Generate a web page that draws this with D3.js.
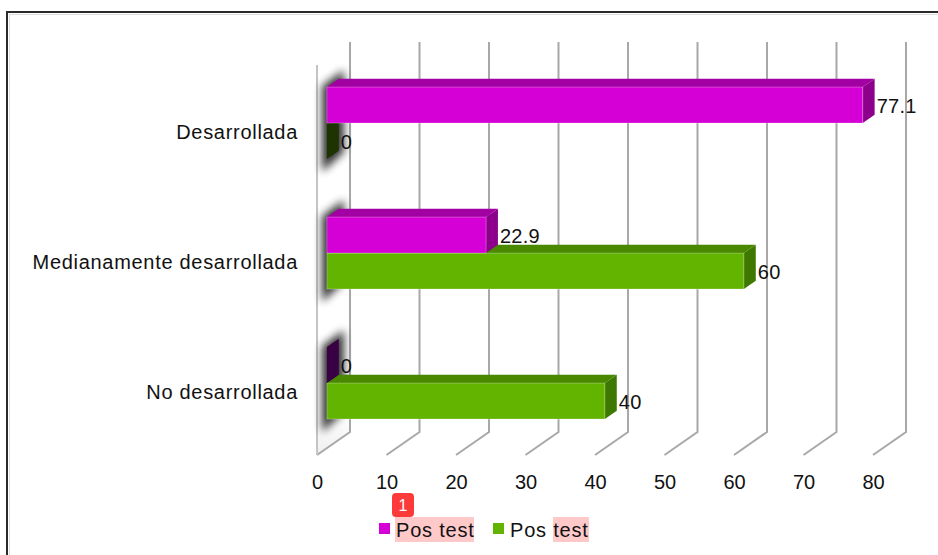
<!DOCTYPE html>
<html><head><meta charset="utf-8">
<script src="https://cdn.jsdelivr.net/npm/d3@7"></script>
<style>
body{margin:0;background:#fff;}
text{font-family:"Liberation Sans",Arial,Helvetica,sans-serif;fill:#111;}
</style></head>
<body>
<svg id="chart" width="938" height="555"></svg>
<script>
const categories = ["Desarrollada", "Medianamente desarrollada", "No desarrollada"];
const seriesNames = ["Pos test", "Pos test"];
const seriesA = [77.1, 22.9, 0];   // magenta
const seriesB = [0, 60, 40];       // green
const tickValues = [0, 10, 20, 30, 40, 50, 60, 70, 80];

const colors = [
  {front:"#d500d5", top:"#a300a3", side:"#8c008c", zero:"#3a0044"},
  {front:"#63b400", top:"#4a8800", side:"#3e7800", zero:"#1d3300"}
];

const svg = d3.select("#chart");
const W = 938, H = 555;
const DX = 33, DY = -23;          // full depth offset
const d0 = 0.30, d1 = 0.66;       // bar depth range
const barH = 36;

const x = d3.scaleLinear().domain([0, 80]).range([317, 873]);
const y = d3.scaleBand().domain(categories).range([65, 455]);
const P = (v, yy, d) => [x(v) + d * DX, yy + d * DY];
const poly = pts => pts.map(p=>p.join(",")).join(" ");

const defs = svg.append("defs");
defs.append("filter").attr("id","blur").attr("x","-80%").attr("y","-50%").attr("width","260%").attr("height","200%")
  .append("feGaussianBlur").attr("stdDeviation", 4);
const wallPts = [P(0,65,0), P(0,65,1), P(0,455,1), P(0,455,0)];
defs.append("clipPath").attr("id","wallclip").append("polygon")
  .attr("points", poly([[x(0)-6,40],[x(0)+DX+2,40],[x(0)+DX+2,458],[x(0)-6,458]]));
const wg = defs.append("linearGradient").attr("id","wallgrad").attr("x1",0).attr("y1",0).attr("x2",0).attr("y2",1);
wg.append("stop").attr("offset","0").attr("stop-color","#ffffff");
wg.append("stop").attr("offset","0.9").attr("stop-color","#ffffff");
wg.append("stop").attr("offset","1").attr("stop-color","#efefef");

// outer border
svg.append("rect").attr("x",7).attr("y",12).attr("width",W).attr("height",H)
  .attr("fill","none").attr("stroke","#2a2a2a").attr("stroke-width",2);
svg.append("rect").attr("x",9.5).attr("y",14.5).attr("width",W).attr("height",H)
  .attr("fill","none").attr("stroke","#dddddd").attr("stroke-width",1);

// wall
svg.append("polygon").attr("points", poly(wallPts)).attr("fill","url(#wallgrad)");

// grid: back verticals and floor diagonals
const grid = svg.append("g").attr("stroke","#a8a8a8").attr("stroke-width",2).attr("fill","none");
tickValues.forEach(t => {
  const b0 = P(t, 65, 1), b1 = P(t, 455, 1), f = P(t, 455, 0);
  grid.append("polyline").attr("points", poly([b0, b1, f]));
});
// wall front edge
grid.append("line").attr("x1",x(0)).attr("x2",x(0)).attr("y1",65).attr("y2",455).attr("stroke","#c4c4c4");

// shadows on wall
const sh = svg.append("g").attr("clip-path","url(#wallclip)");
categories.forEach(c => {
  const cy = y(c) + y.bandwidth()/2;
  const top = cy - barH, bot = cy + barH;
  const pts = [[x(0)+5, top-8], [x(0)+27, top-24], [x(0)+27, bot-14], [x(0)+5, bot+6]];
  sh.append("polygon").attr("points", poly(pts))
    .attr("fill","#000").attr("opacity",0.8).attr("filter","url(#blur)");
});

// bars
const series = [seriesA, seriesB];
const barsG = svg.append("g");
const labelsG = svg.append("g");
[1, 0].forEach(s => {
  categories.forEach((c, i) => {
    const v = series[s][i];
    const cy = y(c) + y.bandwidth()/2;
    const y0 = cy - barH + s * barH, y1 = y0 + barH;
    const col = colors[s];
    const g = barsG.append("g");
    if (v > 0) {
      g.append("polygon").attr("points", poly([P(0,y0,d0),P(v,y0,d0),P(v,y0,d1),P(0,y0,d1)]))
        .attr("fill", col.top);
      g.append("polygon").attr("points", poly([P(v,y0,d0),P(v,y1,d0),P(v,y1,d1),P(v,y0,d1)]))
        .attr("fill", col.side);
      g.append("polygon").attr("points", poly([P(0,y0,d0),P(v,y0,d0),P(v,y1,d0),P(0,y1,d0)]))
        .attr("fill", col.front).attr("stroke","rgba(255,255,255,0.35)").attr("stroke-width",0.8);
    } else {
      g.append("polygon").attr("points", poly([P(0,y0,d0),P(0,y1,d0),P(0,y1,d1),P(0,y0,d1)]))
        .attr("fill", col.zero);
    }
    const lp = P(v, y0, d1);
    labelsG.append("text").attr("x", lp[0] + 2).attr("y", y0 + d0*DY + barH/2 + 8)
      .attr("font-size", 20).attr("letter-spacing", 0.3).text(v);
  });
});

// x axis
const xAxis = d3.axisBottom(x).tickValues(tickValues).tickSize(0).tickPadding(0);
const xa = svg.append("g").attr("transform","translate(0,474.5)").call(xAxis);
xa.select(".domain").remove();
xa.selectAll("text").attr("font-size",20).attr("fill","#111").style("font-family",'"Liberation Sans",Arial,sans-serif');

// category axis
const yAxis = d3.axisLeft(y).tickSize(0).tickPadding(0);
const ya = svg.append("g").attr("transform","translate(298,0)").call(yAxis);
ya.select(".domain").remove();
ya.selectAll("text").attr("font-size",20).attr("dy","0.47em").attr("letter-spacing",0.7)
  .attr("fill","#111").style("font-family",'"Liberation Sans",Arial,sans-serif');

// legend
const lg = svg.append("g");
lg.append("rect").attr("x",395).attr("y",517).attr("width",79).attr("height",25).attr("fill","#ffc9c9");
lg.append("rect").attr("x",553).attr("y",517).attr("width",36).attr("height",25).attr("fill","#ffc9c9");
const legendX = [379, 493];
seriesNames.forEach((n, i) => {
  lg.append("rect").attr("x", legendX[i]).attr("y", 523).attr("width", 11).attr("height", 11).attr("fill", colors[i].front);
  lg.append("text").attr("x", legendX[i] + 17).attr("y", 537).attr("font-size", 20).attr("letter-spacing",0.8).text(n);
});
// annotation badge
lg.append("rect").attr("x",392).attr("y",493).attr("width",22).attr("height",24).attr("rx",4).attr("fill","#fc3a3a");
lg.append("text").attr("x",403).attr("y",511).attr("text-anchor","middle").attr("font-size",16)
  .style("fill","#ffffff").text("1");
</script>
</body></html>
